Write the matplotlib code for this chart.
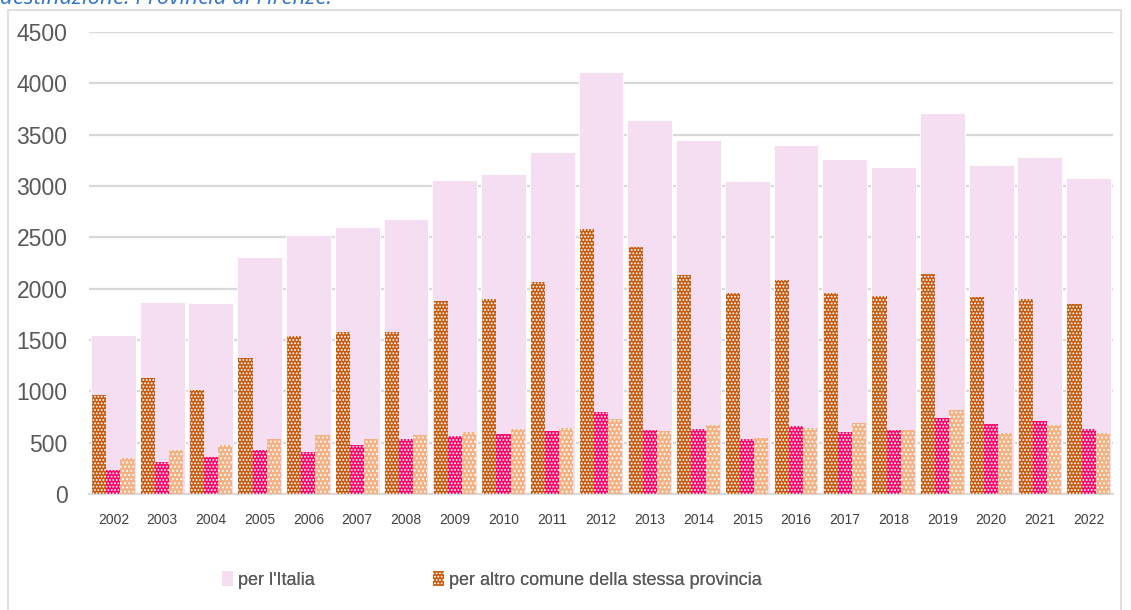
import numpy as np
import matplotlib
matplotlib.use('Agg')
import matplotlib.pyplot as plt
from matplotlib.patches import Patch, Rectangle

plt.rcParams['font.family'] = ['Liberation Sans', 'DejaVu Sans']
plt.rcParams['hatch.linewidth'] = 0.9

# data
years = [str(y) for y in range(2002, 2023)]
italia = [1548, 1870, 1857, 2305, 2522, 2600, 2681, 3054, 3119, 3330, 4107,
          3642, 3450, 3048, 3398, 3262, 3181, 3710, 3204, 3278, 3074]
altro_comune = [964, 1129, 1013, 1324, 1538, 1577, 1577, 1879, 1899, 2064, 2577,
                2405, 2132, 1957, 2084, 1957, 1928, 2142, 1918, 1899, 1850]
serie_magenta = [234, 312, 360, 426, 409, 477, 535, 565, 584, 613, 798,
                 623, 633, 535, 662, 604, 623, 738, 682, 711, 633]
serie_arancio = [351, 426, 475, 539, 572, 532, 571, 604, 633, 646, 727,
                 613, 675, 549, 639, 691, 623, 819, 597, 670, 591]

pink = '#F5DEF2'
brown = '#C55A11'
magenta = '#FF0066'
light_orange = '#F4B183'

fig = plt.figure(figsize=(11.31, 6.10), dpi=100)

# outer chart frame
fig.patches.append(Rectangle((8 / 1131, -0.01), (1121 - 8) / 1131, 1 - 10 / 610 + 0.01,
                             transform=fig.transFigure, fill=False,
                             edgecolor='#D9D9D9', linewidth=1.2))

# caption, cut off at the top as in the original
fig.text(0.0, 1 - 3.5 / 610, 'destinazione: Provincia di Firenze.', color='#2E75C8',
         fontsize=16, style='italic', ha='left', va='baseline',
         family=['Open Sans', 'DejaVu Sans'])

ax = fig.add_axes([89 / 1131, 1 - 494 / 610, (1113 - 89) / 1131, (494 - 32) / 610])

x = np.arange(len(years))
w = 0.29

ax.bar(x, italia, width=0.92, color=pink, edgecolor='white', linewidth=0.6, zorder=2)
ax.bar(x - w, altro_comune, width=w, color=brown, edgecolor='white', linewidth=0,
       hatch='.....', zorder=3)
ax.bar(x, serie_magenta, width=w, color=magenta, edgecolor='white', linewidth=0,
       hatch='.....', zorder=3)
ax.bar(x + w, serie_arancio, width=w, color=light_orange, edgecolor='white', linewidth=0,
       hatch='....', zorder=3)

ax.set_xlim(-0.5, len(years) - 0.5)
ax.set_ylim(0, 4500)
ax.set_yticks(np.arange(0, 4501, 500))
ax.set_xticks(x)
ax.set_xticklabels(years)
ax.tick_params(axis='y', length=0, pad=15.5, labelsize=16.5, labelcolor='#595959')
ax.tick_params(axis='x', length=0, pad=14, labelsize=10, labelcolor='#404040')
ax.grid(axis='y', color='#D9D9D9', linewidth=1.6, zorder=0)
ax.set_axisbelow(True)
for s in ['top', 'right', 'left']:
    ax.spines[s].set_visible(False)
ax.spines['bottom'].set_color('#D9D9D9')
ax.spines['bottom'].set_linewidth(1.6)

# legend (only first row visible in the original)
h1 = [Patch(facecolor=pink, edgecolor='none', label="per l'Italia")]
h2 = [Patch(facecolor=brown, edgecolor='white', linewidth=0, hatch='.....',
            label='per altro comune della stessa provincia')]
for handles, xpos in [(h1, 222), (h2, 433)]:
    lg = fig.legend(handles=handles, loc='center left',
                    bbox_to_anchor=(xpos / 1131, 1 - 580 / 610), frameon=False,
                    fontsize=13, handlelength=0.6, handleheight=0.85,
                    handletextpad=0.3, borderaxespad=0, borderpad=0,
                    labelcolor='#595959')
    fig.add_artist(lg)

fig.savefig('out.png', dpi=100)
